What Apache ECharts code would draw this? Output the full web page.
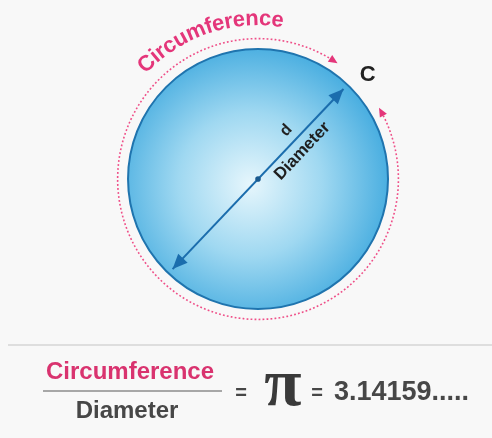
<!DOCTYPE html>
<html>
<head>
    <meta charset="utf-8">
    <title>Circumference / Diameter = pi</title>
    <script src="https://cdn.jsdelivr.net/npm/echarts@6/dist/echarts.min.js"></script>
    <style>
        html, body { margin: 0; padding: 0; background: #f8f8f8; }
        #main { width: 492px; height: 438px; }
    </style>
</head>
<body>
<div id="main"></div>
<script type="text/javascript">
    // geometry in circle units (radius of the disc = 1)
    var circleCenter = [0, 0];
    var radii = [1, 1.08];              // disc, dotted circumference path
    var dottedArcDeg = [58, 388];       // dotted path runs CCW from first to second angle
    var diameterDeg = [46.5, 226.5];    // the two ends of the diameter
    var arcTextRange = [134, 83];       // angle span of the curved word

    // texts
    var arcWord = 'Circumference';
    var diagramLabels = ['d', 'Diameter', 'C'];
    var formulaTop = 'Circumference';
    var formulaBottom = 'Diameter';
    var piSymbol = 'π';
    var piDigits = '3.14159.....';

    var pink = '#e4367a';
    var blue = '#1b6dad';
    var grey = '#474747';
    var font = '"Liberation Sans", Arial, sans-serif';

    var measure = document.createElement('canvas').getContext('2d');

    function rad(d) { return d * Math.PI / 180; }

    function renderDiagram(params, api) {
        var c = api.coord(circleCenter);
        var unit = api.size([1, 1])[0];
        function pt(r, deg) {
            return api.coord([circleCenter[0] + r * Math.cos(rad(deg)), circleCenter[1] + r * Math.sin(rad(deg))]);
        }
        // point offset along the diameter (a) and across it (p)
        function onDiameter(a, p) {
            var t = rad(diameterDeg[0]);
            return api.coord([a * Math.cos(t) - p * Math.sin(t), a * Math.sin(t) + p * Math.cos(t)]);
        }
        function arrow(tip, from, len, half, color) {
            var dx = tip[0] - from[0], dy = tip[1] - from[1];
            var l = Math.sqrt(dx * dx + dy * dy);
            dx /= l; dy /= l;
            var bx = tip[0] - dx * len, by = tip[1] - dy * len;
            return {
                type: 'polygon',
                shape: { points: [tip, [bx - dy * half, by + dx * half], [bx + dy * half, by - dx * half]] },
                style: { fill: color }
            };
        }

        var children = [];

        // disc
        children.push({
            type: 'circle',
            shape: { cx: c[0], cy: c[1], r: radii[0] * unit },
            style: {
                fill: new echarts.graphic.RadialGradient(0.47, 0.52, 0.55, [
                    { offset: 0, color: '#e6f6fc' },
                    { offset: 0.5, color: '#9fd8f1' },
                    { offset: 1, color: '#43abdf' }
                ]),
                stroke: '#1f74ae',
                lineWidth: 2
            }
        });

        // dotted circumference path
        var pts = [];
        for (var a = dottedArcDeg[0]; a <= dottedArcDeg[1]; a += 1) pts.push(pt(radii[1], a));
        children.push({
            type: 'polyline',
            shape: { points: pts },
            style: { fill: null, stroke: '#ef4f88', lineWidth: 1.6, lineDash: [1.8, 2.2] }
        });
        var s0 = pt(radii[1], dottedArcDeg[0]);
        children.push(arrow(pt(radii[1], dottedArcDeg[0] - 2.5), s0, 9, 4, pink));
        var s1 = pt(radii[1], dottedArcDeg[1]);
        children.push(arrow(pt(radii[1], dottedArcDeg[1] + 2.5), s1, 9, 4, pink));

        // diameter with arrowheads
        var e1 = pt(0.955, diameterDeg[0]);
        var e2 = pt(0.955, diameterDeg[1]);
        children.push({
            type: 'line',
            shape: { x1: e1[0], y1: e1[1], x2: e2[0], y2: e2[1] },
            style: { stroke: blue, lineWidth: 2 }
        });
        children.push(arrow(e1, c, 15, 6.5, blue));
        children.push(arrow(e2, c, 15, 6.5, blue));
        children.push({
            type: 'circle',
            shape: { cx: c[0], cy: c[1], r: 2.8 },
            style: { fill: '#1a5a8f' }
        });

        // labels along the diameter
        var rot = rad(diameterDeg[0]);
        var dPos = onDiameter(0.42, 0.1);
        children.push({
            type: 'text', x: dPos[0], y: dPos[1], rotation: rot,
            style: { text: diagramLabels[0], font: 'bold 16px ' + font, fill: '#222', align: 'center', verticalAlign: 'middle' }
        });
        var diaPos = onDiameter(0.39, -0.1);
        children.push({
            type: 'text', x: diaPos[0], y: diaPos[1], rotation: rot,
            style: { text: diagramLabels[1], font: 'bold 17px ' + font, fill: '#1e1e1e', align: 'center', verticalAlign: 'middle' }
        });
        var cPos = pt(1.16, 43.4);
        children.push({
            type: 'text', x: cPos[0], y: cPos[1],
            style: { text: diagramLabels[2], font: 'bold 22px ' + font, fill: '#222', align: 'center', verticalAlign: 'middle' }
        });

        // curved word on top of the circle
        var arcFont = 'bold 22px ' + font;
        measure.font = arcFont;
        var widths = arcWord.split('').map(function (ch) { return measure.measureText(ch).width; });
        var rText = 1.145 * unit;
        var centersSpan = rad(arcTextRange[0] - arcTextRange[1]) * rText;
        var raw = 0;
        for (var i = 0; i < widths.length - 1; i++) raw += (widths[i] + widths[i + 1]) / 2;
        var gap = (centersSpan - raw) / (widths.length - 1);
        var along = 0;
        for (var j = 0; j < widths.length; j++) {
            if (j > 0) along += (widths[j - 1] + widths[j]) / 2 + gap;
            var ang = arcTextRange[0] - along / rText * 180 / Math.PI;
            var p = pt(1.145, ang);
            children.push({
                type: 'text', x: p[0], y: p[1], rotation: rad(ang - 90),
                style: { text: arcWord[j], font: arcFont, fill: pink, align: 'center', verticalAlign: 'bottom' }
            });
        }

        return { type: 'group', children: children };
    }

    var myChart = echarts.init(document.getElementById('main'));

    var option = {
        backgroundColor: '#f8f8f8',
        animation: false,
        grid: { left: 0, right: 0, top: 0, bottom: 0 },
        xAxis: { type: 'value', min: -1.985, max: 1.8, show: false },
        yAxis: { type: 'value', min: -1.992, max: 1.377, show: false },
        series: [{
            type: 'custom',
            data: [circleCenter],
            renderItem: renderDiagram,
            silent: true
        }],
        // the formula strip under the picture
        graphic: [
            { type: 'line', shape: { x1: 8, y1: 345, x2: 492, y2: 345 }, style: { stroke: '#dedede', lineWidth: 2 } },
            { type: 'text', x: 130, y: 372, style: { text: formulaTop, font: 'bold 24px ' + font, fill: '#d9336f', align: 'center', verticalAlign: 'middle' } },
            { type: 'line', shape: { x1: 43, y1: 391, x2: 222, y2: 391 }, style: { stroke: '#8c8c8c', lineWidth: 1.5 } },
            { type: 'text', x: 127, y: 411, style: { text: formulaBottom, font: 'bold 24px ' + font, fill: grey, align: 'center', verticalAlign: 'middle' } },
            { type: 'text', x: 241, y: 393, style: { text: '=', font: 'bold 20px ' + font, fill: grey, align: 'center', verticalAlign: 'middle' } },
            { type: 'text', x: 283, y: 387, style: { text: piSymbol, font: 'bold 68px "Liberation Serif", serif', fill: '#3a3a3a', align: 'center', verticalAlign: 'middle' } },
            { type: 'text', x: 317, y: 393, style: { text: '=', font: 'bold 20px ' + font, fill: grey, align: 'center', verticalAlign: 'middle' } },
            { type: 'text', x: 334, y: 393, style: { text: piDigits, font: 'bold 27px ' + font, fill: grey, align: 'left', verticalAlign: 'middle' } }
        ]
    };

    myChart.setOption(option);
</script>
</body>
</html>
